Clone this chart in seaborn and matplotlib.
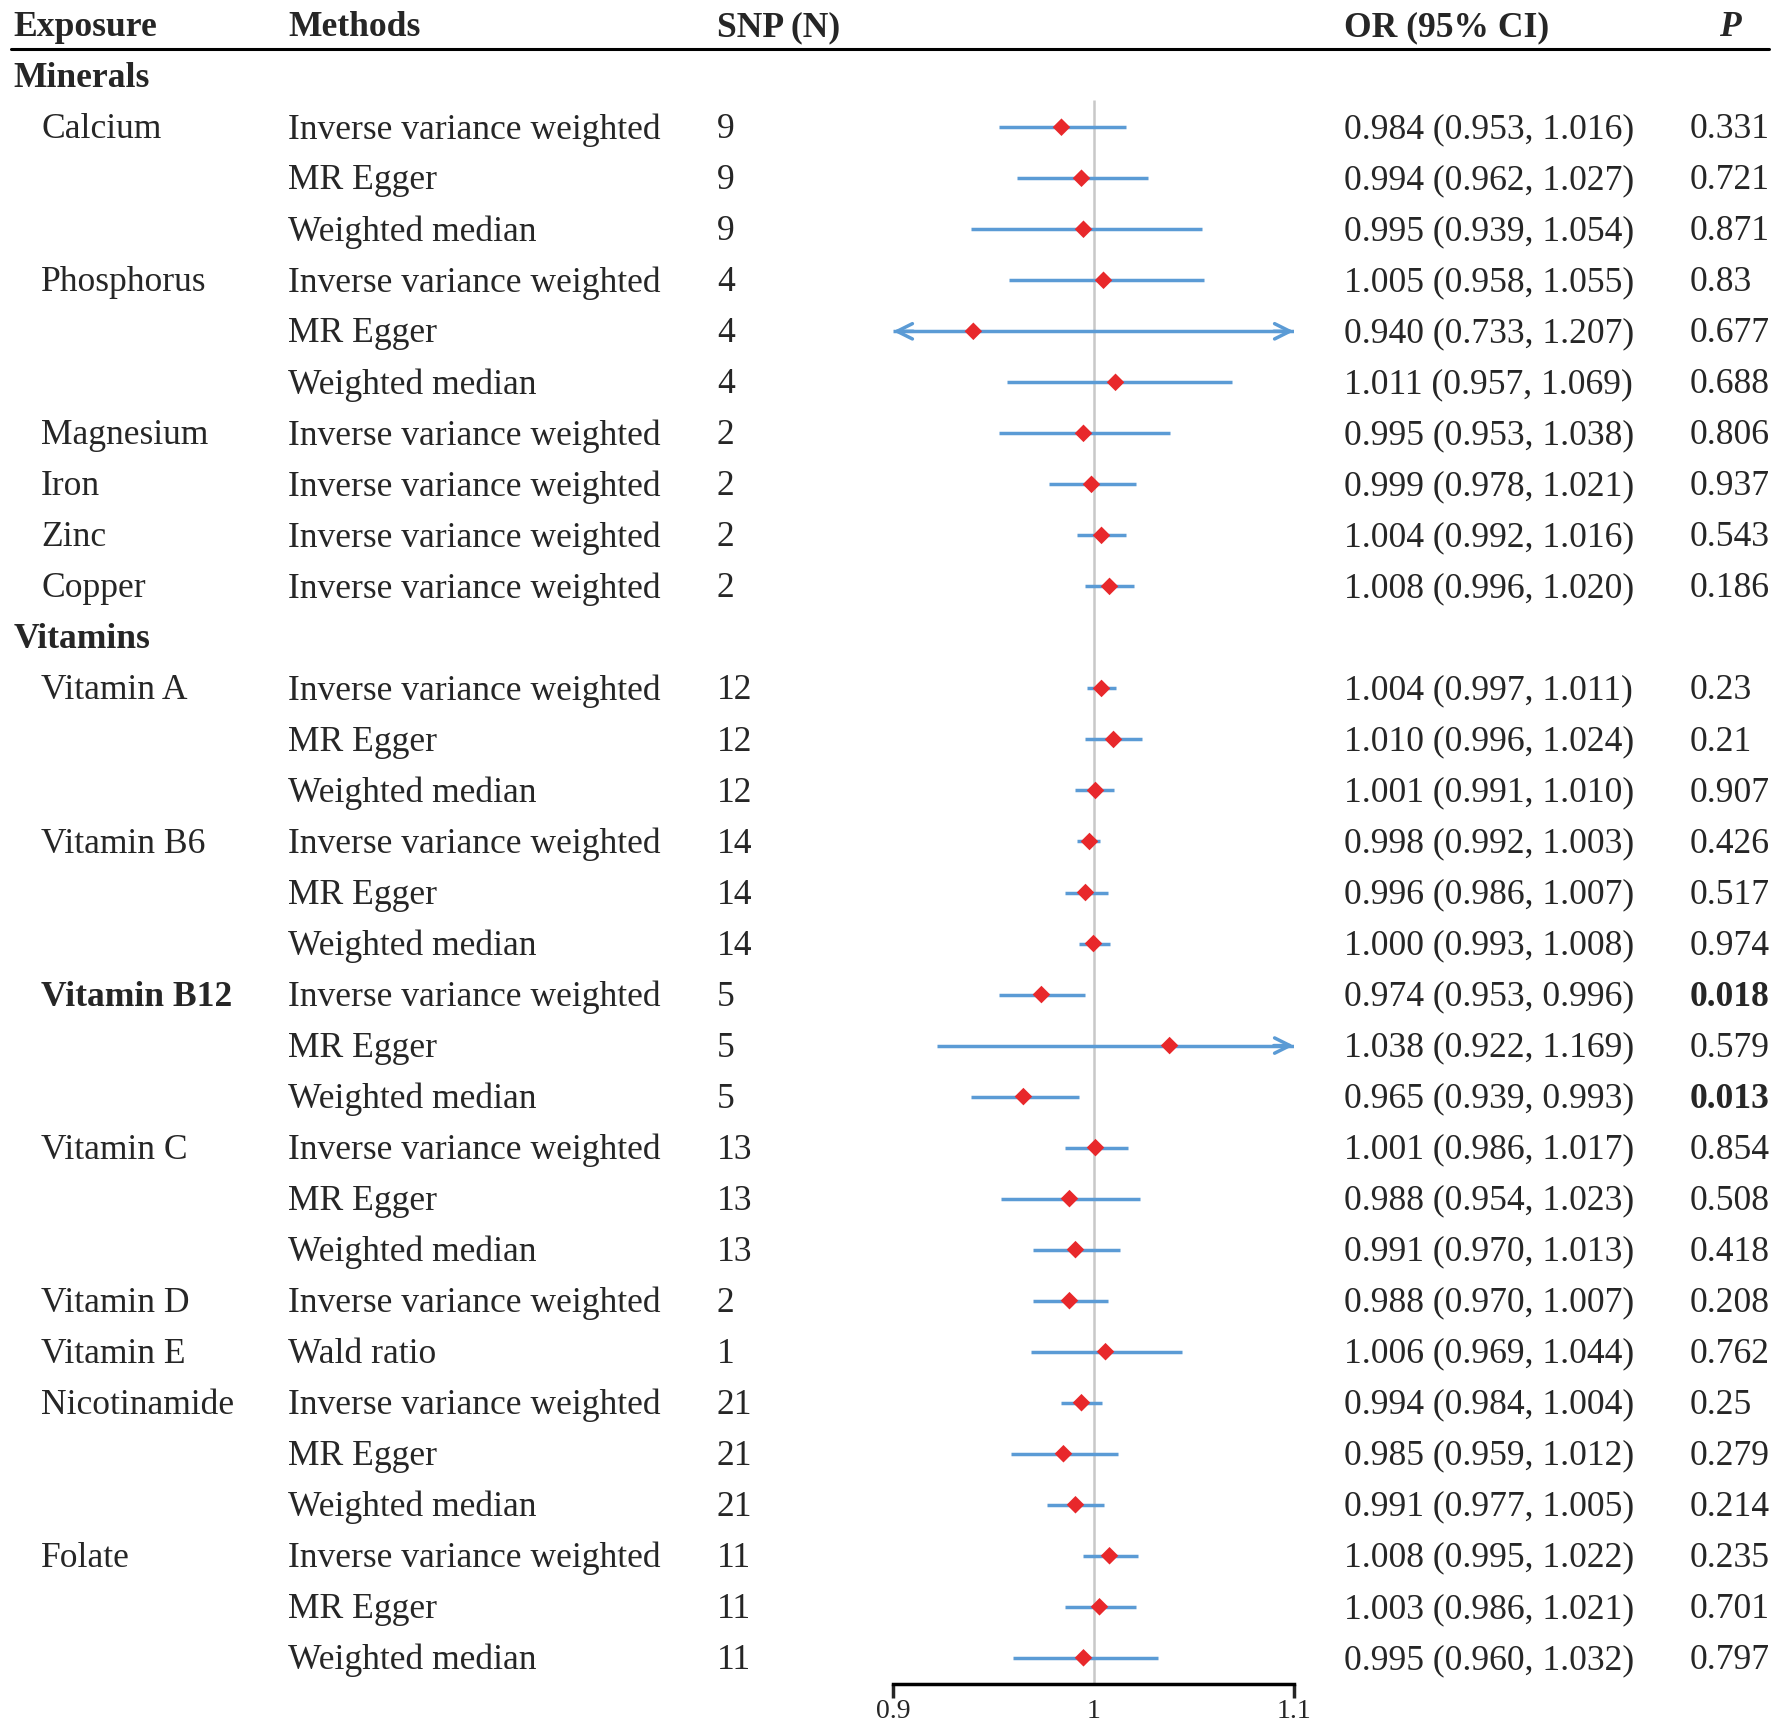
import numpy as np
import pandas as pd
import matplotlib
matplotlib.use("Agg")
import matplotlib.pyplot as plt
import seaborn as sns
from matplotlib.transforms import blended_transform_factory

group = ["Minerals"] * 10 + ["Vitamins"] * 20
exposure = ["Calcium", "", "", "Phosphorus", "", "", "Magnesium", "Iron", "Zinc", "Copper",
            "Vitamin A", "", "", "Vitamin B6", "", "", "Vitamin B12", "", "",
            "Vitamin C", "", "", "Vitamin D", "Vitamin E", "Nicotinamide", "", "",
            "Folate", "", ""]
IVW, EGG, WM = "Inverse variance weighted", "MR Egger", "Weighted median"
methods = [IVW, EGG, WM, IVW, EGG, WM, IVW, IVW, IVW, IVW,
           IVW, EGG, WM, IVW, EGG, WM, IVW, EGG, WM,
           IVW, EGG, WM, IVW, "Wald ratio", IVW, EGG, WM, IVW, EGG, WM]
snp = [9, 9, 9, 4, 4, 4, 2, 2, 2, 2,
       12, 12, 12, 14, 14, 14, 5, 5, 5, 13, 13, 13, 2, 1, 21, 21, 21, 11, 11, 11]
or_est = [0.984, 0.994, 0.995, 1.005, 0.940, 1.011, 0.995, 0.999, 1.004, 1.008,
          1.004, 1.010, 1.001, 0.998, 0.996, 1.000, 0.974, 1.038, 0.965,
          1.001, 0.988, 0.991, 0.988, 1.006, 0.994, 0.985, 0.991, 1.008, 1.003, 0.995]
ci_lo = [0.953, 0.962, 0.939, 0.958, 0.733, 0.957, 0.953, 0.978, 0.992, 0.996,
         0.997, 0.996, 0.991, 0.992, 0.986, 0.993, 0.953, 0.922, 0.939,
         0.986, 0.954, 0.970, 0.970, 0.969, 0.984, 0.959, 0.977, 0.995, 0.986, 0.960]
ci_hi = [1.016, 1.027, 1.054, 1.055, 1.207, 1.069, 1.038, 1.021, 1.016, 1.020,
         1.011, 1.024, 1.010, 1.003, 1.007, 1.008, 0.996, 1.169, 0.993,
         1.017, 1.023, 1.013, 1.007, 1.044, 1.004, 1.012, 1.005, 1.022, 1.021, 1.032]
p_txt = ["0.331", "0.721", "0.871", "0.83", "0.677", "0.688", "0.806", "0.937", "0.543", "0.186",
         "0.23", "0.21", "0.907", "0.426", "0.517", "0.974", "0.018", "0.579", "0.013",
         "0.854", "0.508", "0.418", "0.208", "0.762", "0.25", "0.279", "0.214", "0.235", "0.701", "0.797"]
bold_exposure = ["Vitamin B12"]
xmin, xmax = 0.9, 1.1

# row numbers, group headers get their own row
rows, header_rows = [], {}
r, prev = 0, None
for g in group:
    if g != prev:
        header_rows[g] = r
        r += 1
        prev = g
    rows.append(r)
    r += 1

df = pd.DataFrame({"row": rows, "exposure": exposure, "method": methods, "snp": snp,
                   "or": or_est, "lo": ci_lo, "hi": ci_hi, "p": p_txt})

sns.set_style("white")
plt.rcParams["font.family"] = ["Liberation Serif", "DejaVu Serif"]
FS = 25.6
BLUE = "#5b9bd5"
RED = "#e8282b"
DY = 0.05  # small nudge so text sits on the row centre

fig = plt.figure(figsize=(17.84, 17.35), dpi=100)
ax = fig.add_axes([0.5007, 0, 0.2245, 1])
ax.set_xlim(xmin, xmax)
ax.set_ylim(32.513, -1.4935)
last = df["row"].max()
axis_y = last + 0.51

# reference line
ax.vlines(1, 0.47, axis_y, color="#c8c8c8", lw=1.8, zorder=1)

# CI lines, clipped to the axis range with arrows
lo_c = df["lo"].clip(lower=xmin)
hi_c = df["hi"].clip(upper=xmax)
ax.hlines(df["row"], lo_c, hi_c, color=BLUE, lw=2.5, zorder=2)
astyle = "->,head_length=1.1,head_width=0.55"
for _, d in df.iterrows():
    if d["lo"] < xmin:
        ax.annotate("", xy=(xmin, d["row"]), xytext=(xmin + 0.01, d["row"]),
                    arrowprops=dict(arrowstyle=astyle, color=BLUE, lw=2.5, shrinkA=0, shrinkB=0))
    if d["hi"] > xmax:
        ax.annotate("", xy=(xmax, d["row"]), xytext=(xmax - 0.01, d["row"]),
                    arrowprops=dict(arrowstyle=astyle, color=BLUE, lw=2.5, shrinkA=0, shrinkB=0))

sns.scatterplot(data=df, x="or", y="row", marker="D", color=RED, s=80,
                edgecolor="none", ax=ax, zorder=3, legend=False)
ax.set_ylim(32.513, -1.4935)
ax.set_xlabel("")
ax.set_ylabel("")

# x axis
for s in ["top", "left", "right"]:
    ax.spines[s].set_visible(False)
ax.spines["bottom"].set_position(("data", axis_y))
ax.spines["bottom"].set_linewidth(2.5)
ax.spines["bottom"].set_color("black")
ax.set_xticks([0.9, 1.0, 1.1])
ax.set_xticklabels(["0.9", "1", "1.1"], fontsize=20)
ax.set_yticks([])
ax.tick_params(axis="x", direction="out", length=10, width=2.5, pad=1, bottom=True)
ax.xaxis.get_major_ticks()[1].tick1line.set_visible(False)
ax.grid(False)

# table text
tr = blended_transform_factory(fig.transFigure, ax.transData)
hy = -1.0 + DY
ax.text(0.0077, hy, "Exposure", transform=tr, fontsize=FS, fontweight="bold", va="center")
ax.text(0.1614, hy, "Methods", transform=tr, fontsize=FS, fontweight="bold", va="center")
ax.text(0.4018, hy, "SNP (N)", transform=tr, fontsize=FS, fontweight="bold", va="center")
ax.text(0.7532, hy, "OR (95% CI)", transform=tr, fontsize=FS, fontweight="bold", va="center")
ax.text(0.9755, hy, "P", transform=tr, fontsize=FS, fontweight="bold", style="italic",
        va="center", ha="right")
ax.plot([0.0064, 0.9918], [-0.535, -0.535], transform=tr, color="black", lw=2.2, clip_on=False)

for g, gr in header_rows.items():
    ax.text(0.0077, gr + DY, g, transform=tr, fontsize=FS, fontweight="bold", va="center")

for _, d in df.iterrows():
    y = d["row"] + DY
    if d["exposure"]:
        w = "bold" if d["exposure"] in bold_exposure else "normal"
        ax.text(0.0230, y, d["exposure"], transform=tr, fontsize=FS, fontweight=w, va="center")
    ax.text(0.1614, y, d["method"], transform=tr, fontsize=FS, va="center")
    ax.text(0.4018, y, str(d["snp"]), transform=tr, fontsize=FS, va="center")
    ax.text(0.7532, y, f"{d['or']:.3f} ({d['lo']:.3f}, {d['hi']:.3f})", transform=tr,
            fontsize=FS, va="center")
    pw = "bold" if float(d["p"]) < 0.05 else "normal"
    ax.text(0.9471, y, d["p"], transform=tr, fontsize=FS, fontweight=pw, va="center")

fig.savefig("out.png", dpi=100, facecolor="white")
